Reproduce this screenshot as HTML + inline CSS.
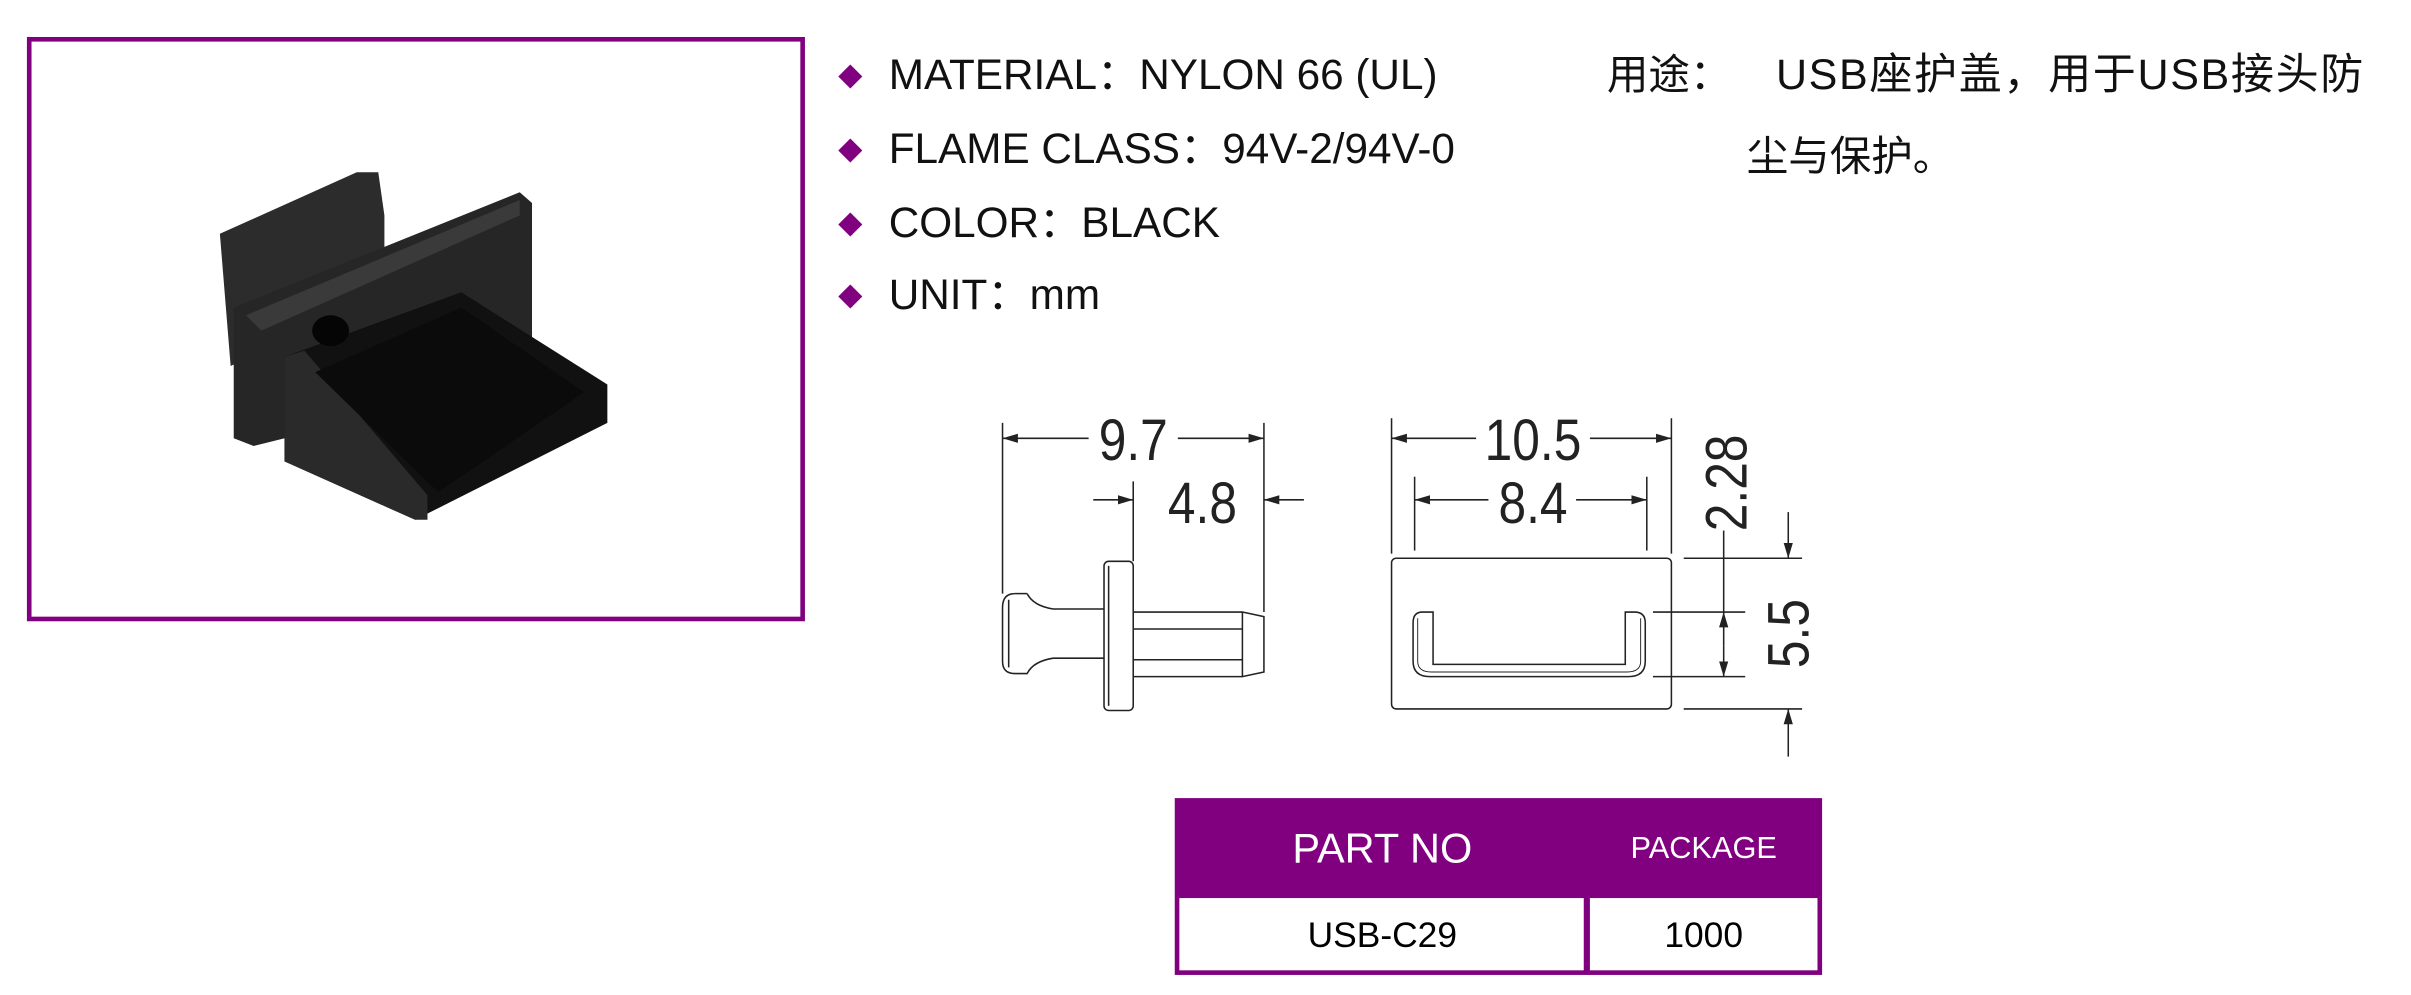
<!DOCTYPE html>
<html><head><meta charset="utf-8"><style>
html,body{margin:0;padding:0;background:#fff;}
svg{display:block;}
.t{font-family:"Liberation Sans","Noto Sans CJK SC",sans-serif;fill:#111;}
.d{font-family:"Liberation Sans Narrow","Liberation Sans",sans-serif;fill:#222;}
</style></head><body>
<svg width="2411" height="995" viewBox="0 0 1568 647" xmlns="http://www.w3.org/2000/svg">
<defs>
<marker id="a" markerWidth="10" markerHeight="6" refX="10" refY="3" orient="auto" markerUnits="userSpaceOnUse"><path d="M0,0 L10,3 L0,6 Z" fill="#222"/></marker>
</defs>
<rect x="19" y="25.5" width="503" height="377" fill="#fff" stroke="#800080" stroke-width="3"/>
<polygon points="143,152 232,112 246,112 250,140 250,190 150,238" fill="#2c2c2c"/>
<polygon points="152,200 338,125 346,132 346,245 165,290 152,285" fill="#262626"/>
<polygon points="160,205 338,130 338,140 170,215" fill="#3a3a3a"/>
<polygon points="185,232 300,190 395,250 395,275 270,338 185,300" fill="#111"/>
<polygon points="185,232 198,228 278,322 278,338 270,338 185,300" fill="#2a2a2a"/>
<polygon points="205,242 300,200 380,255 285,320" fill="#0b0b0b"/>
<ellipse cx="215" cy="215" rx="12" ry="10" fill="#050505"/>
<g class="t" font-size="27.5">
<text x="545" y="56" font-size="16" fill="#800080">◆</text>
<text x="578" y="58">MATERIAL：NYLON 66 (UL)</text>
<text x="545" y="104" font-size="16" fill="#800080">◆</text>
<text x="578" y="106">FLAME CLASS：94V-2/94V-0</text>
<text x="545" y="152" font-size="16" fill="#800080">◆</text>
<text x="578" y="154">COLOR：BLACK</text>
<text x="545" y="199" font-size="16" fill="#800080">◆</text>
<text x="578" y="201">UNIT：mm</text>
<text x="1045" y="58" font-size="27">用途：</text>
<text x="1155" y="58" font-size="28" textLength="382" lengthAdjust="spacing">USB座护盖，用于USB接头防</text>
<text x="1136" y="111" font-size="27">尘与保护。</text>
</g>
<g stroke="#222" stroke-width="1" fill="none">
<line x1="652" y1="275" x2="652" y2="386"/>
<line x1="822" y1="275" x2="822" y2="398"/>
<line x1="708" y1="285" x2="652" y2="285" marker-end="url(#a)"/>
<line x1="766" y1="285" x2="822" y2="285" marker-end="url(#a)"/>
<line x1="737" y1="313" x2="737" y2="365"/>
<line x1="711" y1="325" x2="737" y2="325" marker-end="url(#a)"/>
<line x1="848" y1="325" x2="822" y2="325" marker-end="url(#a)"/>
<path d="M660,386 Q652,386 652,395 L652,430 Q652,438 660,438 L668,438 Q672,430 685,428 L718,428 M668,386 Q672,394 685,396 L718,396"/>
<line x1="660" y1="386" x2="668" y2="386"/>
<line x1="656" y1="390" x2="656" y2="434"/>
<rect x="718" y="365" width="19" height="97" rx="3"/>
<line x1="721" y1="368" x2="721" y2="459"/>
<path d="M737,398 L808,398 L822,401 L822,437 L808,440 L737,440"/>
<line x1="808" y1="398" x2="808" y2="440"/>
<line x1="737" y1="409" x2="808" y2="409"/>
<line x1="737" y1="429" x2="808" y2="429"/>
<line x1="905" y1="272" x2="905" y2="360"/>
<line x1="1087" y1="272" x2="1087" y2="360"/>
<line x1="960" y1="285" x2="905" y2="285" marker-end="url(#a)"/>
<line x1="1034" y1="285" x2="1087" y2="285" marker-end="url(#a)"/>
<line x1="920" y1="310" x2="920" y2="358"/>
<line x1="1071" y1="310" x2="1071" y2="358"/>
<line x1="968" y1="325" x2="920" y2="325" marker-end="url(#a)"/>
<line x1="1025" y1="325" x2="1071" y2="325" marker-end="url(#a)"/>
<rect x="905" y="363" width="182" height="98" rx="3"/>
<path d="M932,398 L925,398 Q919,398 919,405 L919,430 Q919,440 930,440 L1059,440 Q1070,440 1070,430 L1070,405 Q1070,398 1063,398 L1057,398 L1057,432 L932,432 Z"/>
<path d="M922,402 L922,430 Q922,437 931,437 L1058,437 Q1067,437 1067,430 L1067,402" stroke-width="0.6"/>
<line x1="1095" y1="363" x2="1172" y2="363"/>
<line x1="1095" y1="461" x2="1172" y2="461"/>
<line x1="1075" y1="398" x2="1135" y2="398"/>
<line x1="1075" y1="440" x2="1135" y2="440"/>
<line x1="1163" y1="333" x2="1163" y2="363" marker-end="url(#a)"/>
<line x1="1163" y1="492" x2="1163" y2="461" marker-end="url(#a)"/>
<line x1="1121" y1="345" x2="1121" y2="398"/>
<line x1="1121" y1="420" x2="1121" y2="398" marker-end="url(#a)"/>
<line x1="1121" y1="420" x2="1121" y2="440" marker-end="url(#a)"/>
</g>
<g class="d" font-size="38" text-anchor="middle">
<text x="737" y="299" transform="translate(737 0) scale(0.85 1) translate(-737 0)">9.7</text>
<text x="782" y="340" transform="translate(782 0) scale(0.85 1) translate(-782 0)">4.8</text>
<text x="997" y="299" transform="translate(997 0) scale(0.85 1) translate(-997 0)">10.5</text>
<text x="997" y="340" transform="translate(997 0) scale(0.85 1) translate(-997 0)">8.4</text>
<text transform="translate(1136 314) rotate(-90) scale(0.85 1)" x="0" y="0">2.28</text>
<text transform="translate(1176 412) rotate(-90) scale(0.85 1)" x="0" y="0">5.5</text>
</g>
<rect x="764" y="519" width="421" height="115" fill="#800080"/>
<rect x="767" y="584" width="263" height="47" fill="#fff"/>
<rect x="1034" y="584" width="148" height="47" fill="#fff"/>
<g font-family="Liberation Sans, sans-serif" text-anchor="middle">
<text x="899" y="561" font-size="27" fill="#fff">PART NO</text>
<text x="1108" y="558" font-size="20" fill="#fff">PACKAGE</text>
<text x="899" y="616" font-size="23" fill="#000">USB-C29</text>
<text x="1108" y="616" font-size="23" fill="#000">1000</text>
</g>
</svg>
</body></html>
